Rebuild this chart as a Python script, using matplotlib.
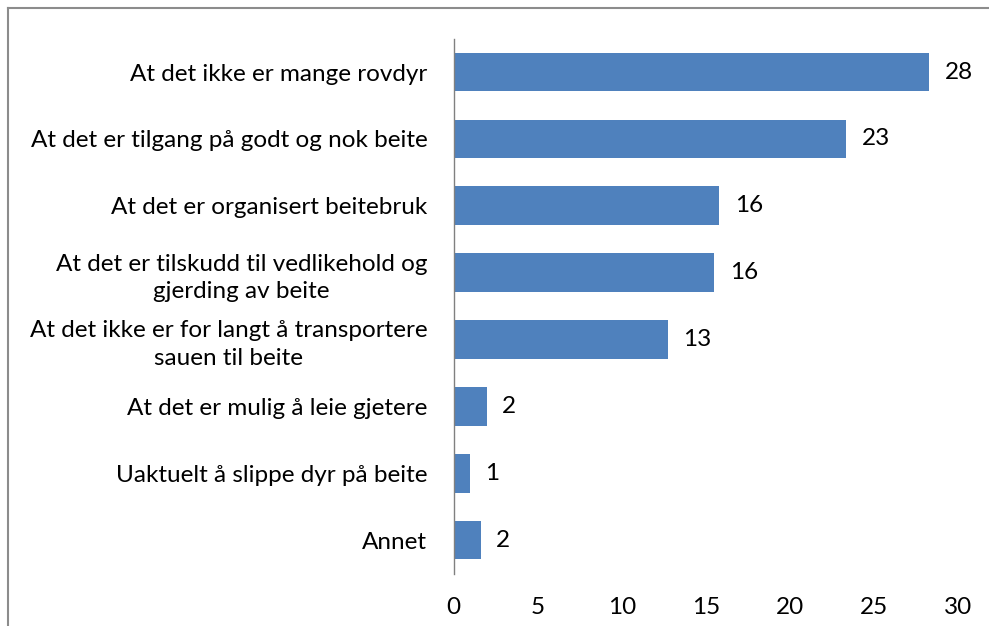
import matplotlib
matplotlib.use("Agg")
import matplotlib.pyplot as plt
from matplotlib.lines import Line2D

categories = [
    "At det ikke er mange rovdyr",
    "At det er tilgang på godt og nok beite",
    "At det er organisert beitebruk",
    "At det er tilskudd til vedlikehold og\ngjerding av beite",
    "At det ikke er for langt å transportere\nsauen til beite",
    "At det er mulig å leie gjetere",
    "Uaktuelt å slippe dyr på beite",
    "Annet",
]
values = [28.3, 23.35, 15.8, 15.5, 12.75, 1.95, 0.95, 1.6]
xticks = [0, 5, 10, 15, 20, 25, 30]

plt.rcParams['font.family'] = ['Lato', 'DejaVu Sans']

fig = plt.figure(figsize=(9.89, 6.26), dpi=100)
ax = fig.add_axes([453.8/989, 1-573.5/626, (958-453.8)/989, (573.5-38.6)/626])

y = list(range(len(categories)))
bars = ax.barh(y, values, height=0.58, color='#4F81BD')
ax.set_ylim(len(categories)-0.5, -0.5)
ax.set_xlim(0, 30)
ax.set_xticks(xticks)
ax.set_yticks(y)
ax.set_yticklabels(categories, multialignment='center', fontsize=17.5, linespacing=1.4)
ax.tick_params(axis='y', length=0, pad=19)
ax.tick_params(axis='x', length=0, pad=17, labelsize=17.5)
for s in ['top', 'right', 'bottom']:
    ax.spines[s].set_visible(False)
ax.spines['left'].set_color('#808080')
ax.spines['left'].set_linewidth(1.0)

for b, v in zip(bars, values):
    ax.annotate(f"{v:.0f}", (b.get_width(), b.get_y()+b.get_height()/2),
                xytext=(11, 0), textcoords='offset points',
                va='center', ha='left', fontsize=17.5)

# outer chart frame (left and top edges visible)
fig.add_artist(Line2D([7.5/989, 7.5/989], [0, 1-8/626], transform=fig.transFigure, color='#8c8c8c', lw=1.5))
fig.add_artist(Line2D([7.5/989, 1], [1-8/626, 1-8/626], transform=fig.transFigure, color='#8c8c8c', lw=1.5))

fig.savefig("out.png", dpi=100)
